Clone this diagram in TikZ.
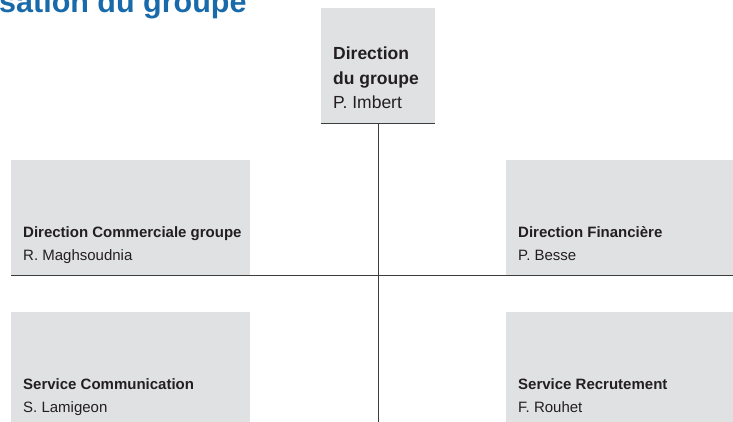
\documentclass[tikz,border=0pt]{standalone}
\usepackage{fontspec}
\setmainfont{Liberation Sans}
\usepackage{tikz}
\usetikzlibrary{calc}

\definecolor{bleu}{RGB}{24,106,170}
\definecolor{gris}{RGB}{224,225,227}
\definecolor{trait}{RGB}{60,60,60}
\definecolor{encre}{RGB}{35,31,32}

\begin{document}
\begin{tikzpicture}[x=1pt, y=-1pt,
    boite/.style={rectangle, fill=gris, inner sep=0pt, anchor=north west, minimum height=115pt},
    fonction/.style={anchor=base west, inner sep=0pt, text=encre, font=\bfseries\fontsize{15}{18}\selectfont},
    personne/.style={anchor=base west, inner sep=0pt, text=encre, font=\fontsize{15}{18}\selectfont},
    fonctiondg/.style={fonction, font=\bfseries\fontsize{17.5}{21}\selectfont},
    personnedg/.style={personne, font=\fontsize{17.5}{21}\selectfont},
    lien/.style={draw=trait, line width=1.1pt}]

    \useasboundingbox (0,0) rectangle (733,421);

    \node[anchor=base west, inner sep=0pt, text=bleu, font=\bfseries\fontsize{30.5}{36}\selectfont] (titre) at (-1,12) {sation du groupe};

    \node[boite, minimum width=114pt] (dg) at (321,8) {};
    \node[fonctiondg] (dg1) at ($(dg.south west) + (12,-64)$) {Direction};
    \node[fonctiondg] (dg2) at ($(dg.south west) + (12,-39)$) {du groupe};
    \node[personnedg] (dgN) at ($(dg.south west) + (12,-15)$) {P. Imbert};

    \node[boite, minimum width=239pt] (com) at (11,160) {};
    \node[fonction] (comT) at ($(com.south west) + (12,-38)$) {Direction Commerciale groupe};
    \node[personne] (comN) at ($(comT.base west) + (0,23)$) {R. Maghsoudnia};

    \node[boite, minimum width=239pt] (fin) at (506,160) {};
    \node[fonction] (finT) at ($(fin.south west) + (12,-38)$) {Direction Financière};
    \node[personne] (finN) at ($(finT.base west) + (0,23)$) {P. Besse};

    \node[boite, minimum width=239pt] (comm) at (11,312) {};
    \node[fonction] (commT) at ($(comm.south west) + (12,-38)$) {Service Communication};
    \node[personne] (commN) at ($(commT.base west) + (0,23)$) {S. Lamigeon};

    \node[boite, minimum width=239pt] (recr) at (506,312) {};
    \node[fonction] (recrT) at ($(recr.south west) + (12,-38)$) {Service Recrutement};
    \node[personne] (recrN) at ($(recrT.base west) + (0,23)$) {F. Rouhet};

    \coordinate (bas) at ($(dg.south) + (0,304)$);

    \draw[lien] (dg.south west) -- (dg.south east);
    \draw[lien] (dg.south) -- (bas);
    \draw[lien] (com.south west) -- (fin.south east);

\end{tikzpicture}
\end{document}
